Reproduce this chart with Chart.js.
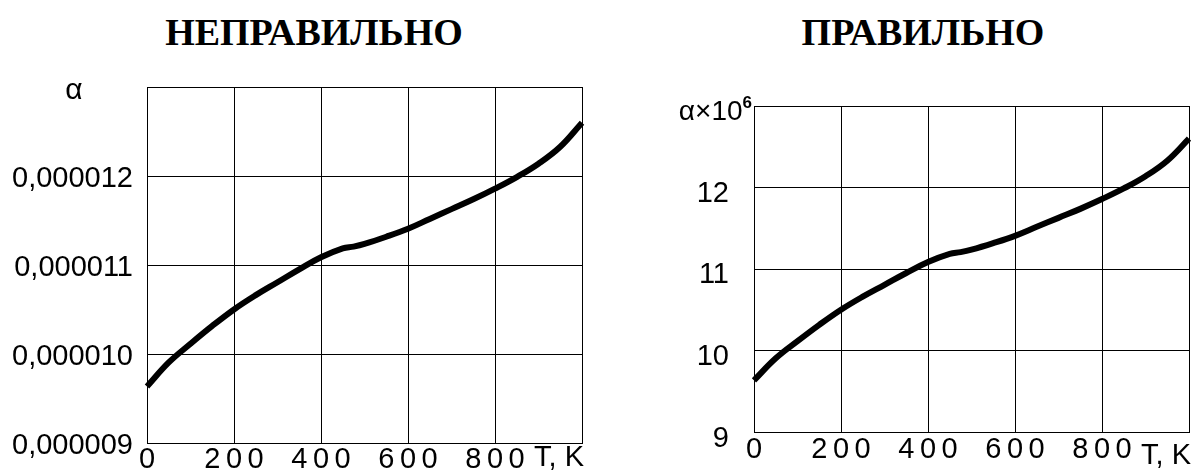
<!DOCTYPE html>
<html>
<head>
<meta charset="utf-8">
<script src="https://cdn.jsdelivr.net/npm/chart.js@4.4.1/dist/chart.umd.min.js"></script>
<style>
  body { margin: 0; width: 1196px; height: 475px; position: relative; background: #fff; overflow: hidden; }
  canvas { position: absolute; top: 0; }
  .txt { position: absolute; color: #000; white-space: nowrap; font-family: "Liberation Sans", Arial, sans-serif; }
  .title { font-family: "Liberation Serif", "Times New Roman", serif; font-weight: bold; font-size: 38px; line-height: 38px; width: 400px; text-align: center; top: 13px; }
  .unit { font-size: 29px; line-height: 29px; width: 100px; text-align: right; }
</style>
</head>
<body>
<div class="txt title" style="left:114px">НЕПРАВИЛЬНО</div>
<div class="txt title" style="left:723px">ПРАВИЛЬНО</div>

<canvas id="wrongChart" width="600" height="475" style="left:0"></canvas>
<canvas id="rightChart" width="596" height="475" style="left:600px"></canvas>

<div class="txt" style="left:54px; top:74px; width:40px; text-align:center; font-size:30px; line-height:30px">α</div>
<div class="txt" style="left:601px; top:97px; width:151px; text-align:right; font-size:28px; line-height:28px">α×10<span style="font-size:17px; font-weight:bold; position:relative; top:-12px">6</span></div>
<div class="txt unit" style="left:484px; top:442px">T, K</div>
<div class="txt unit" style="left:1091px; top:440px">T, K</div>

<script>
// Температура, K
const temps = [0, 50, 100, 150, 200, 250, 300, 350, 400, 450, 475, 500, 550, 600, 650, 700, 750, 800, 850, 900, 950, 1000];
// Коэффициент α × 10^6
const alphaE6 = [9.64, 9.91, 10.12, 10.32, 10.505, 10.665, 10.81, 10.955, 11.09, 11.19, 11.21, 11.24, 11.32, 11.41, 11.52, 11.63, 11.74, 11.86, 11.99, 12.14, 12.33, 12.60];

const xTickValues = [0, 200, 400, 600, 800, 1000];
const xTickLabels = ["0", "200", "400", "600", "800", ""];
const yTickValues = [9, 10, 11, 12, 13];
const yLabelsWrong = ["0,000009", "0,000010", "0,000011", "0,000012", ""];
const yLabelsRight = ["9", "10", "11", "12", ""];

// Разрядка цифр по оси X (рисуются после линии)
const spacedXLabels = {
  id: "spacedXLabels",
  afterDatasetsDraw(chart) { chart.ctx.letterSpacing = "5.5px"; },
  afterDraw(chart) { chart.ctx.letterSpacing = "0px"; }
};

function makeChart(id, scaleK, yLabels, geo) {
  const points = temps.map((t, i) => ({ x: t, y: alphaE6[i] * scaleK }));
  return new Chart(document.getElementById(id), {
    type: "line",
    data: {
      datasets: [{
        data: points,
        borderColor: "#000",
        borderWidth: 6,
        pointRadius: 0,
        tension: 0.4,
        clip: false
      }]
    },
    options: {
      responsive: false,
      animation: false,
      layout: { padding: { top: geo.top, right: geo.right, left: 0, bottom: 0 } },
      plugins: { legend: { display: false }, tooltip: { enabled: false } },
      scales: {
        x: {
          type: "linear",
          min: 0,
          max: 1000,
          afterFit: (s) => { s.height = geo.xHeight; },
          afterBuildTicks: (s) => { s.ticks = xTickValues.map((v) => ({ value: v })); },
          grid: { color: "#000", lineWidth: 1, drawTicks: false },
          border: { color: "#000", width: 1 },
          ticks: {
            z: 1,
            autoSkip: false,
            maxRotation: 0,
            padding: geo.xPad,
            labelOffset: 2.75,
            color: "#000",
            font: { family: "Liberation Sans", size: 29 },
            callback: (v, i) => xTickLabels[i]
          }
        },
        y: {
          min: 9 * scaleK,
          max: 13 * scaleK,
          afterFit: (s) => { s.width = geo.yWidth; },
          afterBuildTicks: (s) => { s.ticks = yTickValues.map((v) => ({ value: v * scaleK })); },
          grid: { color: "#000", lineWidth: 1, drawTicks: false },
          border: { color: "#000", width: 1 },
          ticks: {
            padding: geo.yPad,
            labelOffset: geo.yOff,
            color: "#000",
            font: { family: "Liberation Sans", size: 29 },
            callback: (v, i) => yLabels[i]
          }
        }
      }
    },
    plugins: [spacedXLabels]
  });
}

// Неправильно: значения α без множителя
makeChart("wrongChart", 1e-6, yLabelsWrong, { top: 87, right: 18, xHeight: 29, yWidth: 147, xPad: -1, yPad: 14, yOff: 2.5 });
// Правильно: α×10^6
makeChart("rightChart", 1, yLabelsRight, { top: 106, right: 7, xHeight: 33, yWidth: 154, xPad: 0, yPad: 25, yOff: 6 });
</script>
</body>
</html>
